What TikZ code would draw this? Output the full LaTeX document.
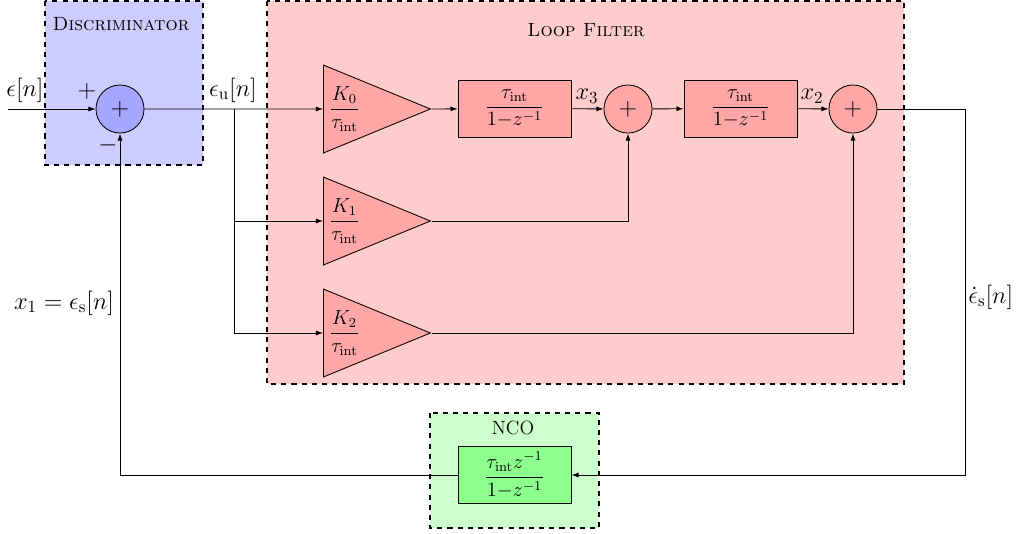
\documentclass[tikz,border=0pt]{standalone}
\usepackage{tikz}
\usetikzlibrary{arrows.meta,positioning,shapes.geometric}
\definecolor{pllInk}{HTML}{000000}
\definecolor{pllBlueBg}{HTML}{CCCCFF}
\definecolor{pllBlue}{HTML}{A6A6FF}
\definecolor{pllRedBg}{HTML}{FFCCCC}
\definecolor{pllRed}{HTML}{FFA6A6}
\definecolor{pllGreenBg}{HTML}{CCFFCC}
\definecolor{pllGreen}{HTML}{8CFF8C}
\tikzset{
  every picture/.style={text=pllInk},
  pll title/.style={font=\fontsize{11.3}{13}\selectfont},
  pll label/.style={font=\fontsize{14.5}{17}\selectfont},
  pll group/.style={draw=pllInk, line width=0.9pt, dashed},
  pll block/.style={draw=pllInk, line width=0.5pt, rectangle,
    minimum width=66.5pt, minimum height=33.6pt, inner sep=1pt,
    font=\fontsize{12}{14}\selectfont},
  pll sum/.style={draw=pllInk, line width=0.5pt, circle,
    minimum size=28.3pt, inner sep=0pt, font=\Large},
  pll gain/.style={draw=pllInk, line width=0.5pt, fill=pllRed,
    isosceles triangle, isosceles triangle stretches,
    minimum width=51.8pt, minimum height=63pt, inner sep=1pt,
    anchor=west, font=\fontsize{12}{14}\selectfont},
  pll arrow/.style={-{Latex[length=4.2pt,width=3pt]},
    draw=pllInk, line width=0.5pt}
}
\begin{document}
\begin{tikzpicture}[x=0.589pt,y=-0.589pt]
  \useasboundingbox (0,0) rectangle (1019,533);
  % groups
  \draw[pll group, fill=pllBlueBg] (45,1) rectangle (203,165);
  \draw[pll group, fill=pllRedBg] (267,1) rectangle (904,384);
  \draw[pll group, fill=pllGreenBg] (430,413) rectangle (599,528);
  \node[pll title] (discTitle) at (121,24) {\textsc{Discriminator}};
  \node[pll title] (loopTitle) at (586,30) {\textsc{Loop Filter}};
  \node[pll title] (ncoTitle) at (513,428) {NCO};
  % blocks
  \node[pll sum, fill=pllBlue] (sumDisc) at (120,109) {$+$};
  \node[pll gain] (gainK0) at (323,109) {$\displaystyle\frac{K_0}{\tau_{\mathrm{int}}}$};
  \node[pll gain] (gainK1) at (323,221) {$\displaystyle\frac{K_1}{\tau_{\mathrm{int}}}$};
  \node[pll gain] (gainK2) at (323,333) {$\displaystyle\frac{K_2}{\tau_{\mathrm{int}}}$};
  \node[pll block, fill=pllRed] (intA) at (514.5,108.5) {$\displaystyle\frac{\tau_{\mathrm{int}}}{1{-}z^{-1}}$};
  \node[pll sum, fill=pllRed] (sumA) at (628,109) {$+$};
  \node[pll block, fill=pllRed] (intB) at (740.5,108.5) {$\displaystyle\frac{\tau_{\mathrm{int}}}{1{-}z^{-1}}$};
  \node[pll sum, fill=pllRed] (sumB) at (853,109) {$+$};
  \node[pll block, fill=pllGreen] (ncoBlock) at (514.5,475) {$\displaystyle\frac{\tau_{\mathrm{int}}z^{-1}}{1{-}z^{-1}}$};
  % free ends
  \coordinate (inStart) at (8,109);
  \coordinate (split) at (234,109);
  \coordinate (fbTurn) at (965,109);
  % connectors
  \draw[pll arrow] (inStart) -- (sumDisc);
  \draw[pll arrow] (sumDisc) -- (gainK0);
  \draw[pll arrow] (split) |- (gainK1);
  \draw[pll arrow] (split) |- (gainK2);
  \draw[pll arrow] (gainK0.apex) -- (intA);
  \draw[pll arrow] (intA) -- (sumA);
  \draw[pll arrow] (sumA) -- (intB);
  \draw[pll arrow] (intB) -- (sumB);
  \draw[pll arrow] (gainK1.apex) -| (sumA);
  \draw[pll arrow] (gainK2.apex) -| (sumB);
  \draw[pll arrow] (sumB) -- (fbTurn) |- (ncoBlock);
  \draw[pll arrow] (ncoBlock) -| (sumDisc);
  % labels
  \node[pll label] (lblIn) at (25,90) {$\epsilon[n]$};
  \node[pll label] (lblPlus) at (87,91) {$+$};
  \node[pll label] (lblMinus) at (108,145) {$-$};
  \node[pll label] (lblErr) at (233,90) {$\epsilon_{\mathrm{u}}[n]$};
  \node[pll label] (lblXthree) at (587,96) {$x_3$};
  \node[pll label] (lblXtwo) at (812,96) {$x_2$};
  \node[pll label, anchor=west, inner sep=0pt] (lblRate) at (968,297) {$\dot{\epsilon}_{\mathrm{s}}[n]$};
  \node[pll label] (lblXone) at (64,303) {$x_1=\epsilon_{\mathrm{s}}[n]$};
\end{tikzpicture}
\end{document}
